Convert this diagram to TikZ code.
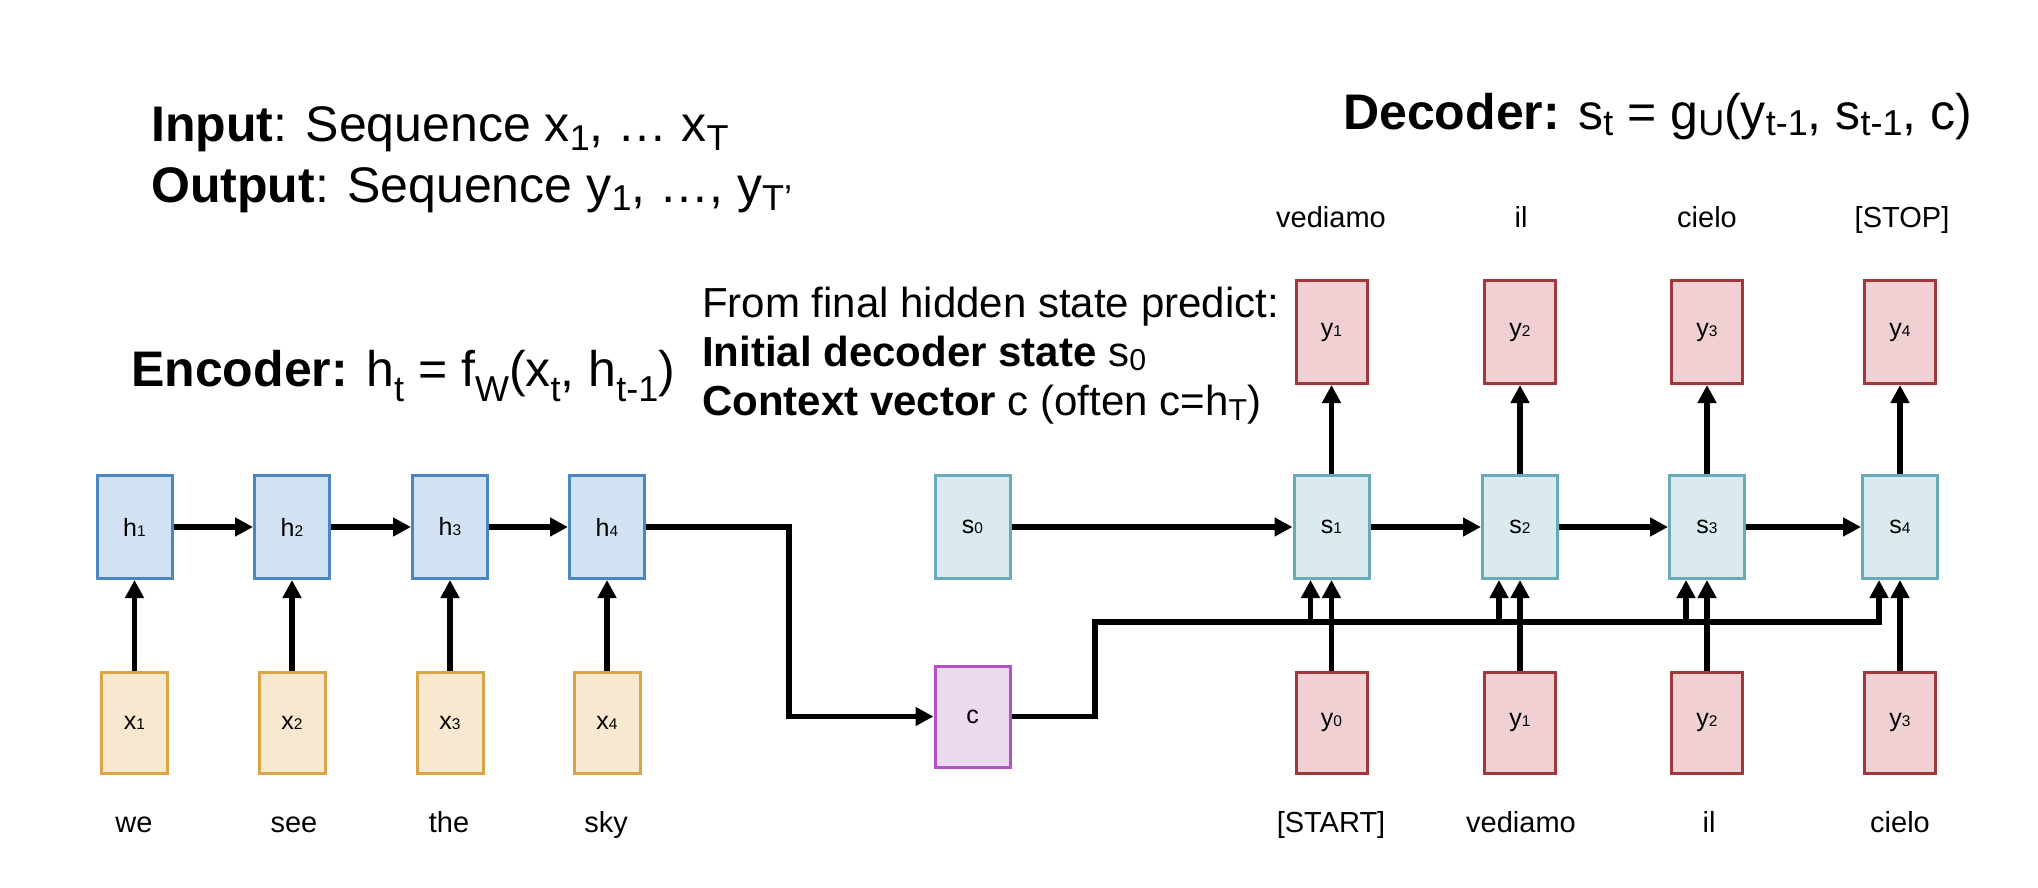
\documentclass[tikz,border=0pt]{standalone}
\usepackage{fontspec}
\usepackage{graphicx}
\setmainfont{Liberation Sans}
\usetikzlibrary{arrows.meta}
\newcommand\lsub[2][0.18em]{\raisebox{-#1}{\scalebox{0.72}{#2}}}
\newcommand\bsub[1]{\scalebox{0.62}{#1}}
\newcommand\fs[1]{\fontsize{#1}{#1}\selectfont}
\definecolor{hfill}{HTML}{D3E2F2}
\definecolor{hdraw}{HTML}{4A86C1}
\definecolor{xfill}{HTML}{F9E8D0}
\definecolor{xdraw}{HTML}{DAA548}
\definecolor{sfill}{HTML}{DAEAEE}
\definecolor{sdraw}{HTML}{67AAB8}
\definecolor{cfill}{HTML}{EBD9F0}
\definecolor{cdraw}{HTML}{B552C8}
\definecolor{yfill}{HTML}{F0D0D2}
\definecolor{ydraw}{HTML}{A0393B}
\begin{document}
\begin{tikzpicture}[x=1pt,y=-1pt,
  box/.style={draw, line width=3pt, inner sep=0pt, font=\fs{25}},
  hbox/.style={box, fill=hfill, draw=hdraw, minimum width=75pt, minimum height=103pt},
  xbox/.style={box, fill=xfill, draw=xdraw, minimum width=66pt, minimum height=101pt},
  sbox/.style={box, fill=sfill, draw=sdraw, minimum width=75pt, minimum height=103pt},
  cbox/.style={box, fill=cfill, draw=cdraw, minimum width=75pt, minimum height=101pt},
  ybox/.style={box, fill=yfill, draw=ydraw, minimum width=71pt, minimum height=103pt},
  word/.style={inner sep=0pt, font=\fs{29}, text height=0.72em, text depth=0.22em},
  title/.style={inner sep=0pt, anchor=base west, font=\fs{50}},
  mid/.style={inner sep=0pt, anchor=base west, font=\fs{42}},
  ln/.style={line width=5.5pt},
  arr/.style={line width=5.5pt, -{Triangle[length=18pt,width=18pt]}}]
\fill[white] (0,0) rectangle (2038,888);
\useasboundingbox (0,0) rectangle (2038,888);

% titles
\node[title] (tin) at (151,142) {\textbf{Input}: Sequence x\lsub{1}, … x\lsub{T}};
\node[title] (tout) at (151,202) {\textbf{Output}: Sequence y\lsub{1}, …, y\lsub{T’}};
\node[title] (tenc) at (131,386) {\textbf{Encoder:} h\lsub[0.3em]{t} = f\lsub[0.3em]{W}(x\lsub[0.3em]{t}, h\lsub[0.3em]{t-1})};
\node[title] (tdec) at (1343,130) {\textbf{Decoder:} s\lsub[0.1em]{t} = g\lsub[0.12em]{U}(y\lsub[0.1em]{t-1}, s\lsub[0.1em]{t-1}, c)};
\node[mid] (m1) at (702,317) {From final hidden state predict:};
\node[mid] (m2) at (702,366) {\textbf{Initial decoder state} s\lsub[0.1em]{0}};
\node[mid] (m3) at (702,415) {\textbf{Context vector} c (often c=h\lsub[0.12em]{T})};

% encoder
\node[hbox] (h1) at (134.5,527) {h\bsub{1}};
\node[hbox] (h2) at (292,527) {h\bsub{2}};
\node[hbox] (h3) at (450,527) {h\bsub{3}};
\node[hbox] (h4) at (607,527) {h\bsub{4}};
\node[xbox] (x1) at (134.5,722.5) {x\bsub{1}};
\node[xbox] (x2) at (292,722.5) {x\bsub{2}};
\node[xbox] (x3) at (450,722.5) {x\bsub{3}};
\node[xbox] (x4) at (607,722.5) {x\bsub{4}};
\node[word] (w1) at (134,830) {we};
\node[word] (w2) at (294,830) {see};
\node[word] (w3) at (449,830) {the};
\node[word] (w4) at (606,830) {sky};

% middle
\node[sbox] (s0) at (972.5,527) {s\bsub{0}};
\node[cbox] (c) at (972.5,716.5) {c};

% decoder
\node[sbox] (s1) at (1331.5,527) {s\bsub{1}};
\node[sbox] (s2) at (1520,527) {s\bsub{2}};
\node[sbox] (s3) at (1707,527) {s\bsub{3}};
\node[sbox] (s4) at (1900,527) {s\bsub{4}};
\node[ybox] (yt1) at (1331.5,332) {y\bsub{1}};
\node[ybox] (yt2) at (1520,332) {y\bsub{2}};
\node[ybox] (yt3) at (1707,332) {y\bsub{3}};
\node[ybox] (yt4) at (1900,332) {y\bsub{4}};
\node[ybox, minimum height=101pt] (yb0) at (1331.5,722.5) {y\bsub{0}};
\node[ybox, minimum height=101pt] (yb1) at (1520,722.5) {y\bsub{1}};
\node[ybox, minimum height=101pt] (yb2) at (1707,722.5) {y\bsub{2}};
\node[ybox, minimum height=101pt] (yb3) at (1900,722.5) {y\bsub{3}};
\node[word] (lt1) at (1331,225) {vediamo};
\node[word] (lt2) at (1521,225) {il};
\node[word] (lt3) at (1707,225) {cielo};
\node[word] (lt4) at (1902,225) {[STOP]};
\node[word] (lb0) at (1331,830) {[START]};
\node[word] (lb1) at (1521,830) {vediamo};
\node[word] (lb2) at (1709,830) {il};
\node[word] (lb3) at (1900,830) {cielo};

% encoder connectors
\draw[arr] (h1) -- (h2);
\draw[arr] (h2) -- (h3);
\draw[arr] (h3) -- (h4);
\draw[arr] (x1) -- (h1);
\draw[arr] (x2) -- (h2);
\draw[arr] (x3) -- (h3);
\draw[arr] (x4) -- (h4);

% h4 -> c
\coordinate (hk) at (789,620);
\draw[arr] (h4.east) -| (hk) |- (c.west);

% decoder recurrence
\draw[arr] (s0) -- (s1);
\draw[arr] (s1) -- (s2);
\draw[arr] (s2) -- (s3);
\draw[arr] (s3) -- (s4);
\draw[arr] (s1) -- (yt1);
\draw[arr] (s2) -- (yt2);
\draw[arr] (s3) -- (yt3);
\draw[arr] (s4) -- (yt4);
\draw[arr] (yb0) -- (s1);
\draw[arr] (yb1) -- (s2);
\draw[arr] (yb2) -- (s3);
\draw[arr] (yb3) -- (s4);

% context line
\coordinate (cj) at (1095,622);
\coordinate (s1c) at ([xshift=-21pt]s1.south);
\coordinate (s2c) at ([xshift=-21pt]s2.south);
\coordinate (s3c) at ([xshift=-21pt]s3.south);
\coordinate (s4c) at ([xshift=-21pt]s4.south);
\coordinate (b1) at (s1c |- cj);
\coordinate (b2) at (s2c |- cj);
\coordinate (b3) at (s3c |- cj);
\coordinate (b4) at (s4c |- cj);
\draw[arr] (c.east) -| (cj) -- (b4) -- (s4c);
\draw[arr] (b1) -- (s1c);
\draw[arr] (b2) -- (s2c);
\draw[arr] (b3) -- (s3c);
\end{tikzpicture}
\end{document}
